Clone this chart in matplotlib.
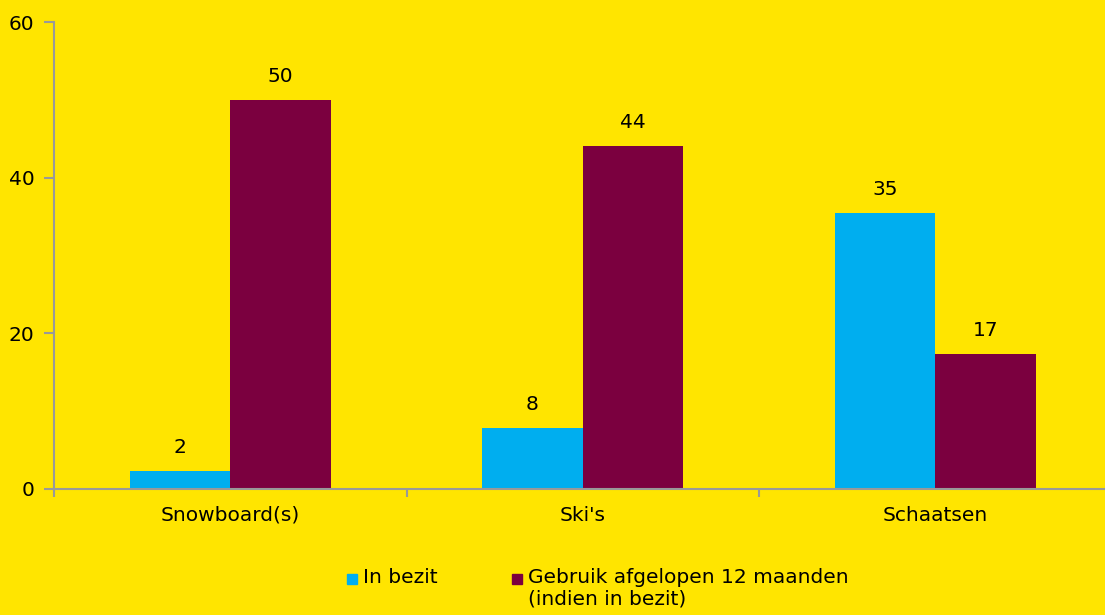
import matplotlib
matplotlib.use("Agg")
import matplotlib.pyplot as plt
from matplotlib.patches import Rectangle
import numpy as np

# data
categories = ["Snowboard(s)", "Ski's", "Schaatsen"]
in_bezit = [2.3, 7.8, 35.5]
gebruik = [50.0, 44.1, 17.4]
in_bezit_labels = ["2", "8", "35"]
gebruik_labels = ["50", "44", "17"]
series_names = ["In bezit", "Gebruik afgelopen 12 maanden\n(indien in bezit)"]
yticks = [0, 20, 40, 60]

yellow = "#FFE500"
cyan = "#00AEEF"
maroon = "#7B003F"
grey = "#999999"

plt.rcParams["font.family"] = "DejaVu Sans"
plt.rcParams["font.size"] = 14.5

fig = plt.figure(figsize=(11.05, 6.15), dpi=100, facecolor=yellow)
ax = fig.add_axes([54 / 1105, 1 - 489 / 615, 1057.5 / 1105, 467 / 615])
ax.set_facecolor(yellow)

x = np.arange(len(categories))
w = 0.285
b1 = ax.bar(x - w / 2, in_bezit, w, color=cyan)
b2 = ax.bar(x + w / 2, gebruik, w, color=maroon)

for bars, labels in [(b1, in_bezit_labels), (b2, gebruik_labels)]:
    for bar, lab in zip(bars, labels):
        ax.annotate(lab, (bar.get_x() + bar.get_width() / 2, bar.get_height()),
                    xytext=(0, 10), textcoords="offset points",
                    ha="center", va="bottom")

ax.set_xlim(-0.5, len(categories) - 0.5)
ax.set_ylim(0, 60)
ax.set_yticks(yticks)
ax.set_xticks(x)
ax.set_xticklabels(categories)
ax.set_xticks(np.arange(len(categories) + 1) - 0.5, minor=True)
ax.tick_params(axis="x", which="major", length=0, pad=12)
ax.tick_params(axis="x", which="minor", length=6, color=grey, width=1.5)
ax.tick_params(axis="y", length=7, color=grey, width=1.5, pad=7)

for side in ["top", "right"]:
    ax.spines[side].set_visible(False)
for side in ["left", "bottom"]:
    ax.spines[side].set_color(grey)
    ax.spines[side].set_linewidth(1.5)

# legend drawn by hand so the square sits beside the first line
for px, color, name in [(347, cyan, series_names[0]), (512, maroon, series_names[1])]:
    fig.patches.append(Rectangle((px / 1105, 1 - 584 / 615), 10 / 1105, 10 / 615,
                                 transform=fig.transFigure, color=color))
    fig.text((px + 16) / 1105, 1 - 568 / 615, name, ha="left", va="top",
             linespacing=1.15)

fig.savefig("out.png", dpi=100, facecolor=yellow)
